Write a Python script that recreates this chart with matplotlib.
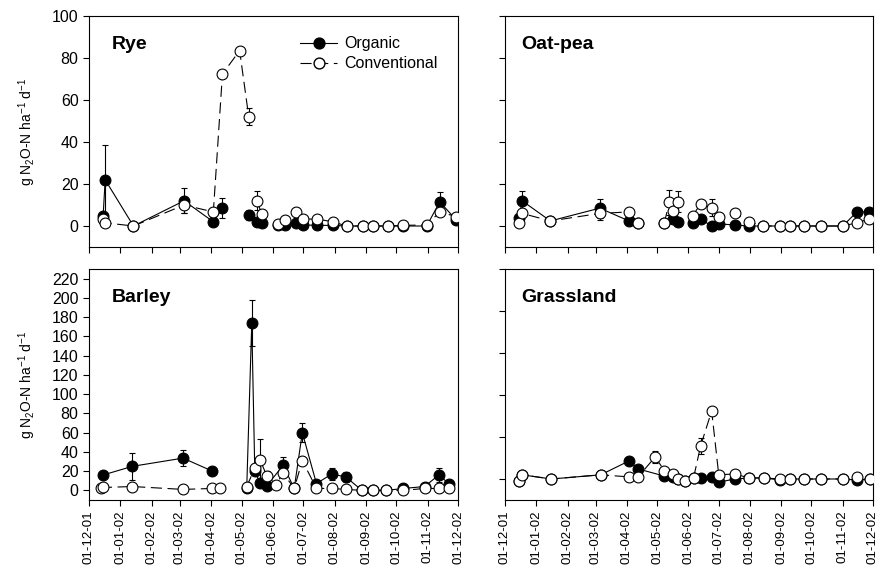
import numpy as np
import pandas as pd
import matplotlib
matplotlib.use('Agg')
import matplotlib.pyplot as plt
import matplotlib.dates as mdates

plt.rcParams['font.family'] = ['Liberation Sans', 'DejaVu Sans']
plt.rcParams['mathtext.default'] = 'regular'
nan = np.nan

# ---- Rye ----
rye_dates = ['2001-12-15', '2001-12-17', '2002-01-14', '2002-03-05', '2002-04-03', '2002-04-12',
             '2002-04-29', '2002-05-08', '2002-05-16', '2002-05-21', '2002-06-06', '2002-06-13',
             '2002-06-24', '2002-07-01', '2002-07-15', '2002-07-30', '2002-08-13', '2002-08-29',
             '2002-09-08', '2002-09-23', '2002-10-08', '2002-10-31', '2002-11-13', '2002-11-29']
rye_org = [5, 22, 0, 12, 2, 8.6, nan, 5.2, 2, 1.5, 0.5, 0.5, 1.5, 0.5, 0.3, 0.3, 0, 0, 0, 0, 0, 0, 11.5, 3]
rye_org_err = [0, 16.5, 0, 6, 0, 4.7, 0, 2.5, 0, 0, 0, 0, 0, 0, 0, 0, 0, 0, 0, 0, 0, 0, 4.5, 0]
rye_conv = [3.5, 1.5, 0, 10, 6.7, 72.4, 83.5, 52, 12, 5.7, 1, 3, 6.5, 3.3, 3.3, 2, 0, 0, 0, 0, 0.3, 0.5, 6.7, 4.5]
rye_conv_err = [0, 0, 0, 3.8, 0, 0, 0, 4, 4.5, 0, 0, 0, 0, 0, 0, 0, 0, 0, 0, 0, 0, 0, 0, 0]
rye_org_breaks = ['2002-05-08', '2002-06-06']
rye_conv_breaks = ['2002-05-16', '2002-06-06']

# ---- Oat-pea ----
oat_dates = ['2001-12-15', '2001-12-18', '2002-01-15', '2002-03-05', '2002-04-03', '2002-04-12',
             '2002-05-08', '2002-05-13', '2002-05-17', '2002-05-22', '2002-06-05', '2002-06-13',
             '2002-06-24', '2002-07-01', '2002-07-17', '2002-07-31', '2002-08-14', '2002-08-31',
             '2002-09-10', '2002-09-24', '2002-10-10', '2002-11-01', '2002-11-15', '2002-11-27']
oat_org = [4, 12, 2.4, 8.5, 2.4, 1.4, 1.5, nan, 3.3, 2, 1.4, 3.3, 0, 1, 0.5, 0, 0, 0, 0, 0, 0, 0, 6.7, 6.7]
oat_org_err = [0, 4.7, 0, 4.5, 0, 0, 0, 0, 0, 0, 0, 0, 0, 0, 0, 0, 0, 0, 0, 0, 0, 0, 0, 0]
oat_conv = [1.5, 6, 2.4, 6, 6.7, 1.4, 1.5, 11.3, 7.3, 11.5, 4.8, 10.5, 8.7, 4.2, 6, 2, 0, 0, 0, 0, 0, 0, 1.5, 3.3]
oat_conv_err = [0, 0, 0, 3, 0, 0, 0, 6, 0, 5, 0, 2, 4, 0, 0, 0, 0, 0, 0, 0, 0, 0, 0, 0]
oat_breaks = ['2002-05-08', '2002-06-05']

# ---- Barley ----
bar_dates = ['2001-12-13', '2001-12-15', '2002-01-13', '2002-03-04', '2002-04-02', '2002-04-10',
             '2002-05-06', '2002-05-11', '2002-05-14', '2002-05-19', '2002-05-26', '2002-06-04',
             '2002-06-11', '2002-06-22', '2002-06-30', '2002-07-14', '2002-07-29', '2002-08-12',
             '2002-08-28', '2002-09-08', '2002-09-21', '2002-10-08', '2002-10-29', '2002-11-12',
             '2002-11-22']
bar_org = [nan, 16, 25, 33.5, 20, nan, 2, 174, 20, 8, 5, nan, 26, 2, 60, 7, 17, 14, 0, 0, 0, 2, 4, 16, 7]
bar_org_err = [0, 0, 14, 8, 0, 0, 0, 24, 0, 0, 0, 0, 9, 0, 10, 0, 6, 5, 0, 0, 0, 0, 0, 7, 0]
bar_conv = [2, 3, 4, 1, 2, 2, 4, nan, 23, 32, 15, 6, 18, 2, 31, 2, 2, 1, 0, 0, 0, 0, 2, 2, 2]
bar_conv_err = [0, 0, 0, 0, 0, 0, 0, 0, 0, 21, 5, 0, 0, 0, 0, 0, 0, 0, 0, 0, 0, 0, 0, 0, 0]
bar_breaks = ['2002-05-06']

# ---- Grassland ----
gra_dates = ['2001-12-15', '2001-12-18', '2002-01-16', '2002-03-06', '2002-04-03', '2002-04-12',
             '2002-04-29', '2002-05-08', '2002-05-17', '2002-05-22', '2002-05-29', '2002-06-06',
             '2002-06-13', '2002-06-24', '2002-07-01', '2002-07-17', '2002-07-31', '2002-08-15',
             '2002-08-31', '2002-09-10', '2002-09-24', '2002-10-10', '2002-11-01', '2002-11-15',
             '2002-11-28']
gra_org = [-1, 2, 0, 2, 8.6, 4.8, nan, 1.4, 1, 0, -1, 0.5, 0.5, 1, -1.5, 0, 0.5, 0.5, -0.5, 0, 0, 0, 0, -0.5, 0]
gra_org_err = [0, 0, 0, 0, 0, 1.5, 0, 0, 0, 0, 0, 0, 0, 0, 0, 0, 0, 0, 0, 0, 0, 0, 0, 0, 0]
gra_conv = [-1, 2, 0, 2, 1, 1, 10.5, 4, 2.4, 0, -1, 0.5, 15.7, 32.4, 2, 2.4, 0.5, 0.5, 0, 0, 0, 0, 0, 1, 0]
gra_conv_err = [0, 0, 0, 0, 0, 0, 3, 0, 0, 0, 0, 0, 4, 0, 0, 0, 0, 0, 0, 0, 0, 0, 0, 0, 0]
gra_breaks = []

month_ticks = pd.date_range('2001-12-01', '2002-12-01', freq='MS')
ylabel = 'g N$_2$O-N ha$^{-1}$ d$^{-1}$'


def draw_series(ax, dates, vals, errs, breaks, filled):
    d = pd.to_datetime(dates)
    v = np.array(vals, dtype=float)
    e = np.array(errs, dtype=float)
    ok = ~np.isnan(v) & (e > 0)
    if ok.any():
        ax.errorbar(d[ok], v[ok], yerr=e[ok], fmt='none', ecolor='black',
                    elinewidth=0.8, capsize=2.2, capthick=0.8, zorder=2)
    starts = [0] + [list(dates).index(b) for b in breaks] + [len(dates)]
    for a, b in zip(starts[:-1], starts[1:]):
        seg_d, seg_v = d[a:b], v[a:b]
        keep = ~np.isnan(seg_v)
        if filled:
            ax.plot(seg_d[keep], seg_v[keep], color='black', lw=0.8, marker='o', ms=7.8,
                    mfc='black', mec='black', mew=0.8, zorder=3)
        else:
            ax.plot(seg_d[keep], seg_v[keep], color='black', lw=0.8, ls=(0, (10, 5)),
                    marker='o', ms=7.8, mfc='white', mec='black', mew=0.8, zorder=4)


fig = plt.figure(figsize=(8.81, 5.74), dpi=100)
W, H = 881, 574
boxes = {
    'rye': (89, 16, 369, 231),
    'oat': (505, 16, 368, 231),
    'bar': (89, 269, 369, 231),
    'gra': (505, 269, 368, 231),
}
axes = {}
for k, (x, y, w, h) in boxes.items():
    axes[k] = fig.add_axes([x / W, 1 - (y + h) / H, w / W, h / H])

panels = [
    ('rye', 'Rye', rye_dates, rye_org, rye_org_err, rye_org_breaks, rye_conv, rye_conv_err, rye_conv_breaks),
    ('oat', 'Oat-pea', oat_dates, oat_org, oat_org_err, oat_breaks, oat_conv, oat_conv_err, oat_breaks),
    ('bar', 'Barley', bar_dates, bar_org, bar_org_err, bar_breaks, bar_conv, bar_conv_err, bar_breaks),
    ('gra', 'Grassland', gra_dates, gra_org, gra_org_err, gra_breaks, gra_conv, gra_conv_err, gra_breaks),
]

for key, name, dts, org, oerr, obr, conv, cerr, cbr in panels:
    ax = axes[key]
    draw_series(ax, dts, org, oerr, obr, True)
    draw_series(ax, dts, conv, cerr, cbr, False)
    ax.set_xlim(pd.Timestamp('2001-12-01'), pd.Timestamp('2002-12-01'))
    ax.set_xticks(month_ticks)
    ax.xaxis.set_major_formatter(mdates.DateFormatter('%d-%m-%y'))
    ax.tick_params(direction='out', length=4, width=0.8, labelsize=11.5)
    ax.tick_params(axis='x', labelrotation=90, labelsize=9.5)
    for sp in ax.spines.values():
        sp.set_linewidth(0.8)
    if key == 'bar':
        ax.set_ylim(-10, 230)
        ax.set_yticks(np.arange(0, 221, 20))
    else:
        ax.set_ylim(-10, 100)
        ax.set_yticks(np.arange(0, 101, 20))
    if key in ('rye', 'oat'):
        ax.tick_params(axis='x', labelbottom=False)
    if key in ('oat', 'gra'):
        ax.tick_params(axis='y', labelleft=False)
    else:
        ax.set_ylabel(ylabel, fontsize=10, labelpad=10)
    tx = 0.062 if key in ('rye', 'bar') else 0.045
    ax.text(tx, 0.875, name, transform=ax.transAxes, fontsize=14, fontweight='bold', va='center')

# legend
ax = axes['rye']
h1, = ax.plot([], [], color='black', lw=0.8, marker='o', ms=7.8, mfc='black', mec='black')
h2, = ax.plot([], [], color='black', lw=0.8, ls=(0, (10, 5)), marker='o', ms=7.8, mfc='white', mec='black')
ax.legend([h1, h2], ['Organic', 'Conventional'], loc='upper right', bbox_to_anchor=(0.945, 0.912),
          frameon=False, fontsize=11.5, handlelength=2.3, handletextpad=0.45, labelspacing=0.3,
          borderpad=0, borderaxespad=0)

fig.savefig('out.png', dpi=100)
